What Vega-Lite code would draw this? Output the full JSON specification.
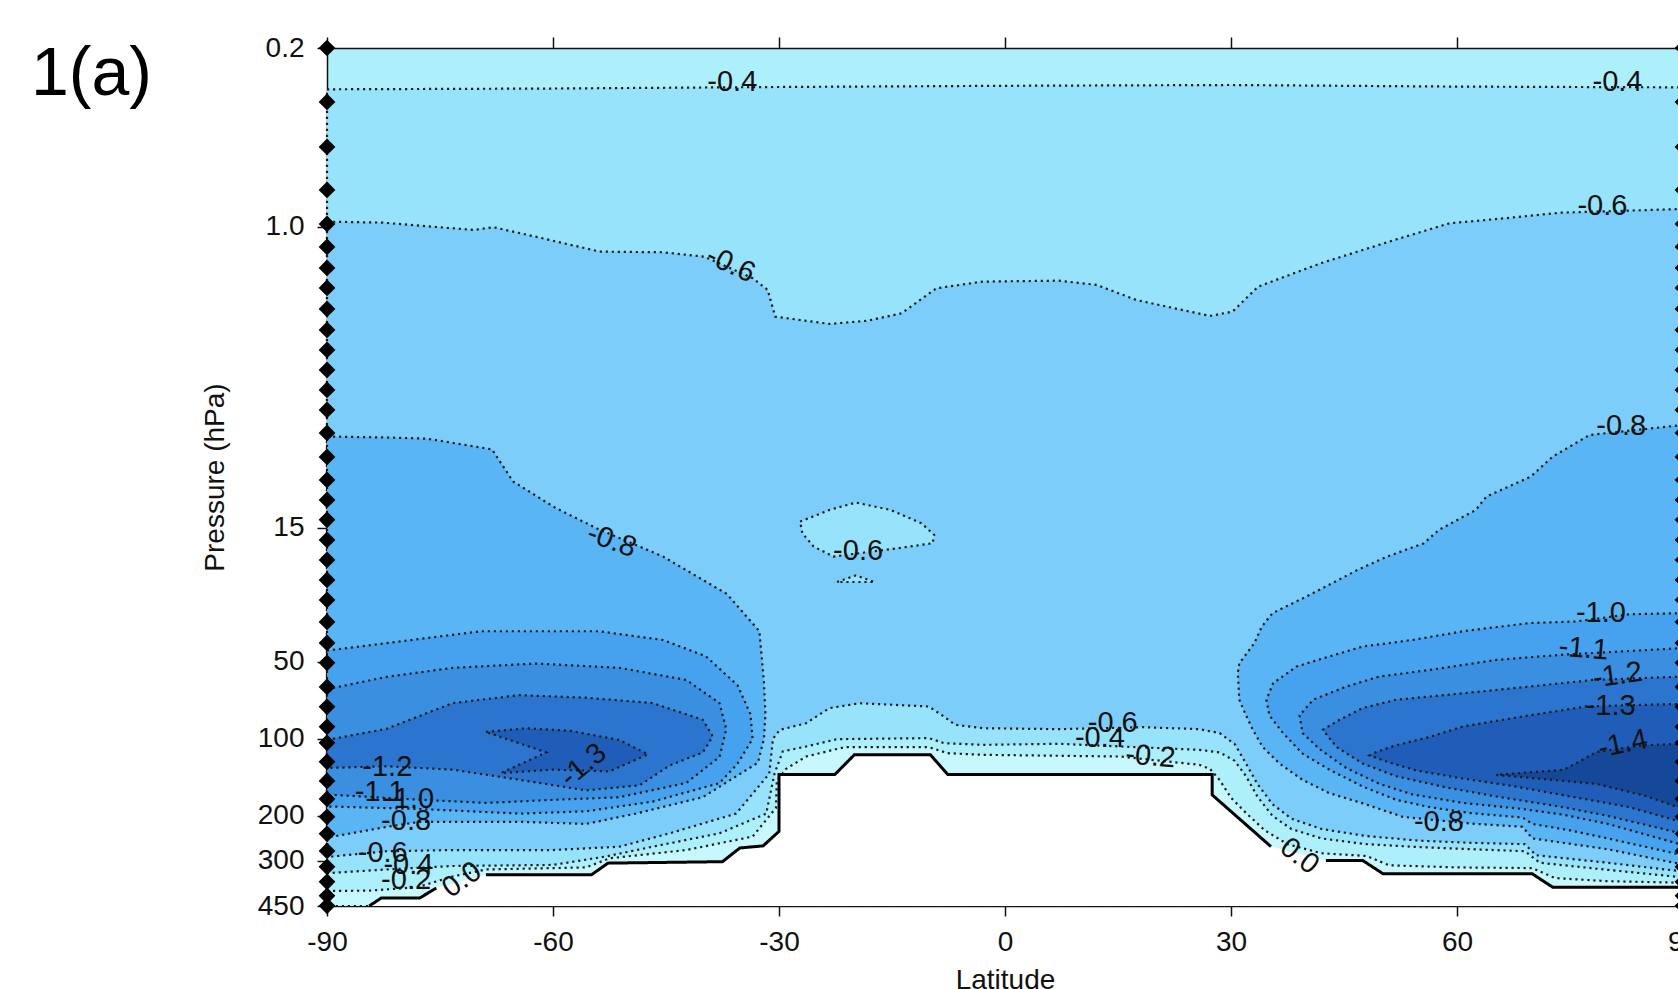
{
"$schema": "https://vega.github.io/schema/vega-lite/v6.json",
"width": 1351, "height": 858,
"autosize": {"type": "none"},
"padding": {"left": 327, "top": 48, "right": 0, "bottom": 83},
"background": "white",
"config": {"view": {"stroke": null, "fill": "#aeeffc"}, "font": "Liberation Sans", "axis": {"zindex": 1}, "line": {"stroke": "#1b1b1b", "strokeWidth": 2.2, "strokeDash": [2.2, 3.8]}},
"title": {"text": "1(a)", "anchor": "start", "frame": "group", "orient": "top", "fontSize": 68, "font": "Liberation Sans", "fontWeight": "normal", "color": "#000", "dx": -296, "dy": 129, "offset": 0, "baseline": "alphabetic"},
"resolve": {"axis": {"x": "independent"}},
"datasets": {
"poly": [
{"c":"m04","part":"a","i":0,"lat":-90,"p":0.29},{"c":"m04","part":"a","i":1,"lat":-60,"p":0.288},{"c":"m04","part":"a","i":2,"lat":-30,"p":0.284},{"c":"m04","part":"a","i":3,"lat":0,"p":0.281},{"c":"m04","part":"a","i":4,"lat":30,"p":0.279},{"c":"m04","part":"a","i":5,"lat":60,"p":0.283},{"c":"m04","part":"a","i":6,"lat":90,"p":0.285},{"c":"m04","part":"a","i":7,"lat":90,"p":348},{"c":"m04","part":"a","i":8,"lat":80,"p":325},{"c":"m04","part":"a","i":9,"lat":71,"p":305},{"c":"m04","part":"a","i":10,"lat":69,"p":275},{"c":"m04","part":"a","i":11,"lat":62,"p":270},{"c":"m04","part":"a","i":12,"lat":55,"p":265},{"c":"m04","part":"a","i":13,"lat":48,"p":258},{"c":"m04","part":"a","i":14,"lat":42,"p":245},{"c":"m04","part":"a","i":15,"lat":38,"p":225},{"c":"m04","part":"a","i":16,"lat":35.5,"p":200},{"c":"m04","part":"a","i":17,"lat":33.5,"p":168},{"c":"m04","part":"a","i":18,"lat":32,"p":140},{"c":"m04","part":"a","i":19,"lat":30.5,"p":122},{"c":"m04","part":"a","i":20,"lat":28.5,"p":113},{"c":"m04","part":"a","i":21,"lat":25.8,"p":110.4},{"c":"m04","part":"a","i":22,"lat":7.1,"p":104.6},{"c":"m04","part":"a","i":23,"lat":-3,"p":105.6},{"c":"m04","part":"a","i":24,"lat":-8.1,"p":104},{"c":"m04","part":"a","i":25,"lat":-10.1,"p":99.4},{"c":"m04","part":"a","i":26,"lat":-22.3,"p":100.3},{"c":"m04","part":"a","i":27,"lat":-26.4,"p":107.2},{"c":"m04","part":"a","i":28,"lat":-29.5,"p":112},{"c":"m04","part":"a","i":29,"lat":-30.6,"p":137},{"c":"m04","part":"a","i":30,"lat":-31.7,"p":196},{"c":"m04","part":"a","i":31,"lat":-37.9,"p":234},{"c":"m04","part":"a","i":32,"lat":-46.8,"p":264},{"c":"m04","part":"a","i":33,"lat":-52.9,"p":288},{"c":"m04","part":"a","i":34,"lat":-60,"p":311},{"c":"m04","part":"a","i":35,"lat":-73.3,"p":314},{"c":"m04","part":"a","i":36,"lat":-82.1,"p":324},{"c":"m04","part":"a","i":37,"lat":-90,"p":335},{"c":"m04","part":"a","i":38,"lat":-90,"p":0.29},

{"c":"m06","part":"a","i":0,"lat":-90,"p":0.954},{"c":"m06","part":"a","i":1,"lat":-82.7,"p":0.962},{"c":"m06","part":"a","i":2,"lat":-70.5,"p":1.028},{"c":"m06","part":"a","i":3,"lat":-67.9,"p":1.003},{"c":"m06","part":"a","i":4,"lat":-62.3,"p":1.092},{"c":"m06","part":"a","i":5,"lat":-53.8,"p":1.249},{"c":"m06","part":"a","i":6,"lat":-45.5,"p":1.256},{"c":"m06","part":"a","i":7,"lat":-39.9,"p":1.307},{"c":"m06","part":"a","i":8,"lat":-33.5,"p":1.587},{"c":"m06","part":"a","i":9,"lat":-31.5,"p":1.763},{"c":"m06","part":"a","i":10,"lat":-30.5,"p":2.242},{"c":"m06","part":"a","i":11,"lat":-23.3,"p":2.394},{"c":"m06","part":"a","i":12,"lat":-18.2,"p":2.324},{"c":"m06","part":"a","i":13,"lat":-13.7,"p":2.174},{"c":"m06","part":"a","i":14,"lat":-9.1,"p":1.737},{"c":"m06","part":"a","i":15,"lat":-3,"p":1.636},{"c":"m06","part":"a","i":16,"lat":7.1,"p":1.622},{"c":"m06","part":"a","i":17,"lat":12.2,"p":1.686},{"c":"m06","part":"a","i":18,"lat":17.4,"p":1.929},{"c":"m06","part":"a","i":19,"lat":27.2,"p":2.228},{"c":"m06","part":"a","i":20,"lat":30.2,"p":2.143},{"c":"m06","part":"a","i":21,"lat":33.6,"p":1.712},{"c":"m06","part":"a","i":22,"lat":41.9,"p":1.387},{"c":"m06","part":"a","i":23,"lat":51.7,"p":1.125},{"c":"m06","part":"a","i":24,"lat":59,"p":0.968},{"c":"m06","part":"a","i":25,"lat":66.4,"p":0.925},{"c":"m06","part":"a","i":26,"lat":73.7,"p":0.88},{"c":"m06","part":"a","i":27,"lat":90,"p":0.851},{"c":"m06","part":"a","i":28,"lat":90,"p":330},{"c":"m06","part":"a","i":29,"lat":80,"p":305},{"c":"m06","part":"a","i":30,"lat":70.5,"p":285},{"c":"m06","part":"a","i":31,"lat":69,"p":258},{"c":"m06","part":"a","i":32,"lat":62,"p":255},{"c":"m06","part":"a","i":33,"lat":55,"p":250},{"c":"m06","part":"a","i":34,"lat":48,"p":240},{"c":"m06","part":"a","i":35,"lat":42,"p":225},{"c":"m06","part":"a","i":36,"lat":38,"p":205},{"c":"m06","part":"a","i":37,"lat":35.5,"p":180},{"c":"m06","part":"a","i":38,"lat":33.5,"p":150},{"c":"m06","part":"a","i":39,"lat":32,"p":125},{"c":"m06","part":"a","i":40,"lat":30.5,"p":105},{"c":"m06","part":"a","i":41,"lat":28.5,"p":95},{"c":"m06","part":"a","i":42,"lat":25.8,"p":91.7},{"c":"m06","part":"a","i":43,"lat":18.3,"p":90.1},{"c":"m06","part":"a","i":44,"lat":7.1,"p":91.7},{"c":"m06","part":"a","i":45,"lat":-3,"p":90.9},{"c":"m06","part":"a","i":46,"lat":-6.6,"p":88.2},{"c":"m06","part":"a","i":47,"lat":-8.1,"p":81.9},{"c":"m06","part":"a","i":48,"lat":-10.1,"p":74.8},{"c":"m06","part":"a","i":49,"lat":-19.3,"p":72.6},{"c":"m06","part":"a","i":50,"lat":-23.3,"p":75.9},{"c":"m06","part":"a","i":51,"lat":-26.4,"p":86.9},{"c":"m06","part":"a","i":52,"lat":-29.9,"p":92.3},{"c":"m06","part":"a","i":53,"lat":-30.8,"p":100},{"c":"m06","part":"a","i":54,"lat":-31.3,"p":137},{"c":"m06","part":"a","i":55,"lat":-35.7,"p":196},{"c":"m06","part":"a","i":56,"lat":-44.5,"p":234},{"c":"m06","part":"a","i":57,"lat":-51.2,"p":264},{"c":"m06","part":"a","i":58,"lat":-60,"p":272},{"c":"m06","part":"a","i":59,"lat":-73.3,"p":272},{"c":"m06","part":"a","i":60,"lat":-82.1,"p":275},{"c":"m06","part":"a","i":61,"lat":-89.2,"p":288},{"c":"m06","part":"a","i":62,"lat":-90,"p":289},{"c":"m06","part":"a","i":63,"lat":-90,"p":0.954},

{"c":"isl","part":"a","i":0,"lat":-27.2,"p":14.17},{"c":"isl","part":"a","i":1,"lat":-23.3,"p":12.76},{"c":"isl","part":"a","i":2,"lat":-19.8,"p":11.94},{"c":"isl","part":"a","i":3,"lat":-15.2,"p":12.76},{"c":"isl","part":"a","i":4,"lat":-11.1,"p":14.38},{"c":"isl","part":"a","i":5,"lat":-9.4,"p":15.97},{"c":"isl","part":"a","i":6,"lat":-9.6,"p":17.21},{"c":"isl","part":"a","i":7,"lat":-14.2,"p":18},{"c":"isl","part":"a","i":8,"lat":-22.8,"p":19.41},{"c":"isl","part":"a","i":9,"lat":-25.4,"p":17.74},{"c":"isl","part":"a","i":10,"lat":-26.9,"p":15.73},{"c":"isl","part":"a","i":11,"lat":-27.2,"p":14.17},
{"c":"isl","part":"b","i":0,"lat":-22.3,"p":24.4},{"c":"isl","part":"b","i":1,"lat":-19.8,"p":23.0},{"c":"isl","part":"b","i":2,"lat":-17.3,"p":24.4},{"c":"isl","part":"b","i":3,"lat":-22.3,"p":24.4},

{"c":"m08","part":"s","i":0,"lat":-90,"p":6.59},{"c":"m08","part":"s","i":1,"lat":-82,"p":6.65},{"c":"m08","part":"s","i":2,"lat":-76.7,"p":6.72},{"c":"m08","part":"s","i":3,"lat":-68.1,"p":7.4},{"c":"m08","part":"s","i":4,"lat":-65.3,"p":9.88},{"c":"m08","part":"s","i":5,"lat":-59.6,"p":12.56},{"c":"m08","part":"s","i":6,"lat":-53.9,"p":15.2},{"c":"m08","part":"s","i":7,"lat":-45.4,"p":19.4},{"c":"m08","part":"s","i":8,"lat":-36.9,"p":27.2},{"c":"m08","part":"s","i":9,"lat":-32.6,"p":38},{"c":"m08","part":"s","i":10,"lat":-32,"p":60},{"c":"m08","part":"s","i":11,"lat":-31.8,"p":80},{"c":"m08","part":"s","i":12,"lat":-32,"p":100},{"c":"m08","part":"s","i":13,"lat":-32.8,"p":124},{"c":"m08","part":"s","i":14,"lat":-40.1,"p":169},{"c":"m08","part":"s","i":15,"lat":-49,"p":196},{"c":"m08","part":"s","i":16,"lat":-55.6,"p":215},{"c":"m08","part":"s","i":17,"lat":-64.4,"p":211},{"c":"m08","part":"s","i":18,"lat":-77.7,"p":211},{"c":"m08","part":"s","i":19,"lat":-82.1,"p":221},{"c":"m08","part":"s","i":20,"lat":-89.2,"p":241},{"c":"m08","part":"s","i":21,"lat":-90,"p":243},{"c":"m08","part":"s","i":22,"lat":-90,"p":6.59},
{"c":"m08","part":"n","i":0,"lat":90,"p":5.94},{"c":"m08","part":"n","i":1,"lat":77.6,"p":6.5},{"c":"m08","part":"n","i":2,"lat":72.7,"p":7.9},{"c":"m08","part":"n","i":3,"lat":69.8,"p":9.45},{"c":"m08","part":"n","i":4,"lat":63.9,"p":11.32},{"c":"m08","part":"n","i":5,"lat":62.5,"p":12.76},{"c":"m08","part":"n","i":6,"lat":57.6,"p":15.27},{"c":"m08","part":"n","i":7,"lat":55.6,"p":17.22},{"c":"m08","part":"n","i":8,"lat":50.7,"p":19.42},{"c":"m08","part":"n","i":9,"lat":46.8,"p":21.89},{"c":"m08","part":"n","i":10,"lat":40,"p":27.82},{"c":"m08","part":"n","i":11,"lat":35.5,"p":32.3},{"c":"m08","part":"n","i":12,"lat":34.1,"p":36.4},{"c":"m08","part":"n","i":13,"lat":33.1,"p":42.3},{"c":"m08","part":"n","i":14,"lat":31.1,"p":50.7},{"c":"m08","part":"n","i":15,"lat":30.9,"p":55.4},{"c":"m08","part":"n","i":16,"lat":31.1,"p":70.4},{"c":"m08","part":"n","i":17,"lat":32,"p":81},{"c":"m08","part":"n","i":18,"lat":32.9,"p":92.2},{"c":"m08","part":"n","i":19,"lat":34.2,"p":107.6},{"c":"m08","part":"n","i":20,"lat":36.4,"p":124.6},{"c":"m08","part":"n","i":21,"lat":39.5,"p":144.7},{"c":"m08","part":"n","i":22,"lat":43.1,"p":163.3},{"c":"m08","part":"n","i":23,"lat":47.5,"p":178.7},{"c":"m08","part":"n","i":24,"lat":52.8,"p":201.8},{"c":"m08","part":"n","i":25,"lat":61.7,"p":214.2},{"c":"m08","part":"n","i":26,"lat":68.7,"p":220.7},{"c":"m08","part":"n","i":27,"lat":70,"p":245},{"c":"m08","part":"n","i":28,"lat":80,"p":270},{"c":"m08","part":"n","i":29,"lat":90,"p":310},{"c":"m08","part":"n","i":30,"lat":90,"p":5.94},

{"c":"m10","part":"s","i":0,"lat":-90,"p":45.2},{"c":"m10","part":"s","i":1,"lat":-69.5,"p":38},{"c":"m10","part":"s","i":2,"lat":-53.9,"p":38},{"c":"m10","part":"s","i":3,"lat":-45.4,"p":41.1},{"c":"m10","part":"s","i":4,"lat":-39.7,"p":47.6},{"c":"m10","part":"s","i":5,"lat":-35.5,"p":61.8},{"c":"m10","part":"s","i":6,"lat":-33.8,"p":80},{"c":"m10","part":"s","i":7,"lat":-33.5,"p":100},{"c":"m10","part":"s","i":8,"lat":-35.5,"p":125},{"c":"m10","part":"s","i":9,"lat":-37.9,"p":149},{"c":"m10","part":"s","i":10,"lat":-46.8,"p":176},{"c":"m10","part":"s","i":11,"lat":-55.6,"p":192},{"c":"m10","part":"s","i":12,"lat":-64.4,"p":196},{"c":"m10","part":"s","i":13,"lat":-77.7,"p":188},{"c":"m10","part":"s","i":14,"lat":-89.2,"p":184},{"c":"m10","part":"s","i":15,"lat":-90,"p":184},{"c":"m10","part":"s","i":16,"lat":-90,"p":45.2},
{"c":"m10","part":"n","i":0,"lat":90,"p":32.3},{"c":"m10","part":"n","i":1,"lat":82.9,"p":32.6},{"c":"m10","part":"n","i":2,"lat":75.8,"p":34.8},{"c":"m10","part":"n","i":3,"lat":69.6,"p":35.3},{"c":"m10","part":"n","i":4,"lat":60.8,"p":38},{"c":"m10","part":"n","i":5,"lat":54.1,"p":41.1},{"c":"m10","part":"n","i":6,"lat":47.5,"p":43.6},{"c":"m10","part":"n","i":7,"lat":43.1,"p":47.6},{"c":"m10","part":"n","i":8,"lat":38.7,"p":52.2},{"c":"m10","part":"n","i":9,"lat":35.6,"p":60.6},{"c":"m10","part":"n","i":10,"lat":34.7,"p":70.4},{"c":"m10","part":"n","i":11,"lat":35.1,"p":81},{"c":"m10","part":"n","i":12,"lat":36.9,"p":95},{"c":"m10","part":"n","i":13,"lat":39.5,"p":114.3},{"c":"m10","part":"n","i":14,"lat":43.1,"p":132.2},{"c":"m10","part":"n","i":15,"lat":47.5,"p":153.7},{"c":"m10","part":"n","i":16,"lat":51.9,"p":173},{"c":"m10","part":"n","i":17,"lat":56.4,"p":185},{"c":"m10","part":"n","i":18,"lat":61.7,"p":195},{"c":"m10","part":"n","i":19,"lat":68.7,"p":203},{"c":"m10","part":"n","i":20,"lat":70,"p":215},{"c":"m10","part":"n","i":21,"lat":75,"p":228},{"c":"m10","part":"n","i":22,"lat":80,"p":245},{"c":"m10","part":"n","i":23,"lat":90,"p":285},{"c":"m10","part":"n","i":24,"lat":90,"p":32.3},

{"c":"m11","part":"s","i":0,"lat":-90,"p":64},{"c":"m11","part":"s","i":1,"lat":-82.1,"p":57.3},{"c":"m11","part":"s","i":2,"lat":-73.3,"p":52.8},{"c":"m11","part":"s","i":3,"lat":-62.2,"p":50.8},{"c":"m11","part":"s","i":4,"lat":-51.2,"p":52.8},{"c":"m11","part":"s","i":5,"lat":-42.3,"p":58.9},{"c":"m11","part":"s","i":6,"lat":-37.9,"p":72.5},{"c":"m11","part":"s","i":7,"lat":-37,"p":91.7},{"c":"m11","part":"s","i":8,"lat":-37.9,"p":117.7},{"c":"m11","part":"s","i":9,"lat":-42.3,"p":148.7},{"c":"m11","part":"s","i":10,"lat":-51.2,"p":169.2},{"c":"m11","part":"s","i":11,"lat":-60,"p":173.2},{"c":"m11","part":"s","i":12,"lat":-68.9,"p":178},{"c":"m11","part":"s","i":13,"lat":-77.7,"p":173},{"c":"m11","part":"s","i":14,"lat":-89.2,"p":165.6},{"c":"m11","part":"s","i":15,"lat":-90,"p":165.6},{"c":"m11","part":"s","i":16,"lat":-90,"p":64},
{"c":"m11","part":"n","i":0,"lat":90,"p":44.2},{"c":"m11","part":"n","i":1,"lat":74.1,"p":46.9},{"c":"m11","part":"n","i":2,"lat":65.2,"p":49.2},{"c":"m11","part":"n","i":3,"lat":56.4,"p":53.8},{"c":"m11","part":"n","i":4,"lat":49.7,"p":57.1},{"c":"m11","part":"n","i":5,"lat":45.3,"p":62.5},{"c":"m11","part":"n","i":6,"lat":40.9,"p":70.4},{"c":"m11","part":"n","i":7,"lat":39.1,"p":81},{"c":"m11","part":"n","i":8,"lat":39.5,"p":95},{"c":"m11","part":"n","i":9,"lat":41.8,"p":110},{"c":"m11","part":"n","i":10,"lat":45.3,"p":130},{"c":"m11","part":"n","i":11,"lat":49.7,"p":150},{"c":"m11","part":"n","i":12,"lat":54.1,"p":165},{"c":"m11","part":"n","i":13,"lat":60.8,"p":178},{"c":"m11","part":"n","i":14,"lat":68.7,"p":188},{"c":"m11","part":"n","i":15,"lat":74.1,"p":198},{"c":"m11","part":"n","i":16,"lat":80,"p":215},{"c":"m11","part":"n","i":17,"lat":90,"p":260},{"c":"m11","part":"n","i":18,"lat":90,"p":44.2},

{"c":"m12","part":"s","i":0,"lat":-90,"p":101},{"c":"m12","part":"s","i":1,"lat":-82.1,"p":91.4},{"c":"m12","part":"s","i":2,"lat":-73.3,"p":72.5},{"c":"m12","part":"s","i":3,"lat":-64.4,"p":67.5},{"c":"m12","part":"s","i":4,"lat":-55.6,"p":69.1},{"c":"m12","part":"s","i":5,"lat":-46.8,"p":72.5},{"c":"m12","part":"s","i":6,"lat":-40.1,"p":84.3},{"c":"m12","part":"s","i":7,"lat":-38.8,"p":97.8},{"c":"m12","part":"s","i":8,"lat":-40.1,"p":113},{"c":"m12","part":"s","i":9,"lat":-44.5,"p":127},{"c":"m12","part":"s","i":10,"lat":-48.5,"p":152},{"c":"m12","part":"s","i":11,"lat":-55.6,"p":159},{"c":"m12","part":"s","i":12,"lat":-64.4,"p":144.7},{"c":"m12","part":"s","i":13,"lat":-73.3,"p":132},{"c":"m12","part":"s","i":14,"lat":-82.1,"p":128},{"c":"m12","part":"s","i":15,"lat":-90,"p":130},{"c":"m12","part":"s","i":16,"lat":-90,"p":101},
{"c":"m12","part":"n","i":0,"lat":90,"p":57.1},{"c":"m12","part":"n","i":1,"lat":78,"p":58.9},{"c":"m12","part":"n","i":2,"lat":69.6,"p":62.5},{"c":"m12","part":"n","i":3,"lat":60.8,"p":66.4},{"c":"m12","part":"n","i":4,"lat":51.9,"p":70.4},{"c":"m12","part":"n","i":5,"lat":47.5,"p":75.8},{"c":"m12","part":"n","i":6,"lat":44.4,"p":84.3},{"c":"m12","part":"n","i":7,"lat":42.2,"p":92.2},{"c":"m12","part":"n","i":8,"lat":44,"p":107.6},{"c":"m12","part":"n","i":9,"lat":47.5,"p":125},{"c":"m12","part":"n","i":10,"lat":51.9,"p":140},{"c":"m12","part":"n","i":11,"lat":58.6,"p":155},{"c":"m12","part":"n","i":12,"lat":65.2,"p":168},{"c":"m12","part":"n","i":13,"lat":74.1,"p":185},{"c":"m12","part":"n","i":14,"lat":80,"p":200},{"c":"m12","part":"n","i":15,"lat":90,"p":235},{"c":"m12","part":"n","i":16,"lat":90,"p":57.1},

{"c":"m13","part":"s","i":0,"lat":-68.9,"p":94},{"c":"m13","part":"s","i":1,"lat":-63.6,"p":91},{"c":"m13","part":"s","i":2,"lat":-57.8,"p":93},{"c":"m13","part":"s","i":3,"lat":-51.2,"p":101},{"c":"m13","part":"s","i":4,"lat":-47.4,"p":115},{"c":"m13","part":"s","i":5,"lat":-52.5,"p":134},{"c":"m13","part":"s","i":6,"lat":-60,"p":132},{"c":"m13","part":"s","i":7,"lat":-66.9,"p":136},{"c":"m13","part":"s","i":8,"lat":-60.9,"p":113},{"c":"m13","part":"s","i":9,"lat":-68.9,"p":94},
{"c":"m13","part":"n","i":0,"lat":90,"p":73},{"c":"m13","part":"n","i":1,"lat":77.2,"p":74.7},{"c":"m13","part":"n","i":2,"lat":69.6,"p":81},{"c":"m13","part":"n","i":3,"lat":60.8,"p":89.5},{"c":"m13","part":"n","i":4,"lat":56.4,"p":98.3},{"c":"m13","part":"n","i":5,"lat":51.9,"p":106},{"c":"m13","part":"n","i":6,"lat":49.3,"p":112.6},{"c":"m13","part":"n","i":7,"lat":48.4,"p":116.1},{"c":"m13","part":"n","i":8,"lat":51.1,"p":124},{"c":"m13","part":"n","i":9,"lat":54.6,"p":133},{"c":"m13","part":"n","i":10,"lat":60.8,"p":143},{"c":"m13","part":"n","i":11,"lat":67.4,"p":153},{"c":"m13","part":"n","i":12,"lat":74.1,"p":166},{"c":"m13","part":"n","i":13,"lat":82.9,"p":185},{"c":"m13","part":"n","i":14,"lat":90,"p":212},{"c":"m13","part":"n","i":15,"lat":90,"p":73},

{"c":"m14","part":"n","i":0,"lat":90,"p":104.5},{"c":"m14","part":"n","i":1,"lat":84.7,"p":106},{"c":"m14","part":"n","i":2,"lat":78.5,"p":112.6},{"c":"m14","part":"n","i":3,"lat":75.8,"p":124.6},{"c":"m14","part":"n","i":4,"lat":74.1,"p":132.2},{"c":"m14","part":"n","i":5,"lat":65.2,"p":138.3},{"c":"m14","part":"n","i":6,"lat":69.6,"p":142},{"c":"m14","part":"n","i":7,"lat":78.5,"p":150},{"c":"m14","part":"n","i":8,"lat":85,"p":167},{"c":"m14","part":"n","i":9,"lat":90,"p":188},{"c":"m14","part":"n","i":10,"lat":90,"p":104.5},

{"c":"b02","part":"a","i":0,"lat":-90,"p":393},{"c":"b02","part":"a","i":1,"lat":-84.4,"p":392},{"c":"b02","part":"a","i":2,"lat":-78,"p":380},{"c":"b02","part":"a","i":3,"lat":-73.3,"p":345},{"c":"b02","part":"a","i":4,"lat":-68.9,"p":324},{"c":"b02","part":"a","i":5,"lat":-60,"p":320},{"c":"b02","part":"a","i":6,"lat":-55.6,"p":318},{"c":"b02","part":"a","i":7,"lat":-52.5,"p":293},{"c":"b02","part":"a","i":8,"lat":-42.3,"p":272},{"c":"b02","part":"a","i":9,"lat":-33.5,"p":241},{"c":"b02","part":"a","i":10,"lat":-30.4,"p":186},{"c":"b02","part":"a","i":11,"lat":-30.3,"p":146},{"c":"b02","part":"a","i":12,"lat":-29.05,"p":131},{"c":"b02","part":"a","i":13,"lat":-26.4,"p":117.3},{"c":"b02","part":"a","i":14,"lat":-21.3,"p":107.8},{"c":"b02","part":"a","i":15,"lat":-10.1,"p":107.8},{"c":"b02","part":"a","i":16,"lat":-7.6,"p":113.8},{"c":"b02","part":"a","i":17,"lat":-3,"p":115.5},{"c":"b02","part":"a","i":18,"lat":15.3,"p":117.3},{"c":"b02","part":"a","i":19,"lat":25.8,"p":126.4},{"c":"b02","part":"a","i":20,"lat":27.2,"p":131},{"c":"b02","part":"a","i":21,"lat":28.5,"p":145},{"c":"b02","part":"a","i":22,"lat":30,"p":170},{"c":"b02","part":"a","i":23,"lat":32,"p":195},{"c":"b02","part":"a","i":24,"lat":34.5,"p":228},{"c":"b02","part":"a","i":25,"lat":37.5,"p":258},{"c":"b02","part":"a","i":26,"lat":42,"p":280},{"c":"b02","part":"a","i":27,"lat":48,"p":287},{"c":"b02","part":"a","i":28,"lat":51,"p":312},{"c":"b02","part":"a","i":29,"lat":60,"p":318},{"c":"b02","part":"a","i":30,"lat":70,"p":320},{"c":"b02","part":"a","i":31,"lat":73,"p":350},{"c":"b02","part":"a","i":32,"lat":80,"p":360},{"c":"b02","part":"a","i":33,"lat":90,"p":365},{"c":"b02","part":"a","i":34,"lat":90,"p":450},{"c":"b02","part":"a","i":35,"lat":-90,"p":450},{"c":"b02","part":"a","i":36,"lat":-90,"p":393},

{"c":"wht","part":"a","i":0,"lat":-84.4,"p":450},{"c":"wht","part":"a","i":1,"lat":-82.8,"p":419},{"c":"wht","part":"a","i":2,"lat":-77.7,"p":419},{"c":"wht","part":"a","i":3,"lat":-75.5,"p":383},{"c":"wht","part":"a","i":4,"lat":-68.9,"p":340},{"c":"wht","part":"a","i":5,"lat":-54.9,"p":340},{"c":"wht","part":"a","i":6,"lat":-52.7,"p":306},{"c":"wht","part":"a","i":7,"lat":-37.5,"p":302},{"c":"wht","part":"a","i":8,"lat":-35.2,"p":267},{"c":"wht","part":"a","i":9,"lat":-32.1,"p":262},{"c":"wht","part":"a","i":10,"lat":-30,"p":230},{"c":"wht","part":"a","i":11,"lat":-30,"p":138},{"c":"wht","part":"a","i":12,"lat":-22.6,"p":138},{"c":"wht","part":"a","i":13,"lat":-20,"p":115.5},{"c":"wht","part":"a","i":14,"lat":-9.9,"p":115.5},{"c":"wht","part":"a","i":15,"lat":-7.6,"p":138},{"c":"wht","part":"a","i":16,"lat":27.5,"p":138},{"c":"wht","part":"a","i":17,"lat":27.5,"p":165.6},{"c":"wht","part":"a","i":18,"lat":35.3,"p":263.6},{"c":"wht","part":"a","i":19,"lat":42.6,"p":299},{"c":"wht","part":"a","i":20,"lat":47.5,"p":299},{"c":"wht","part":"a","i":21,"lat":50.2,"p":337},{"c":"wht","part":"a","i":22,"lat":70,"p":337},{"c":"wht","part":"a","i":23,"lat":72.7,"p":380},{"c":"wht","part":"a","i":24,"lat":90,"p":380},{"c":"wht","part":"a","i":25,"lat":90,"p":450},{"c":"wht","part":"a","i":26,"lat":-84.4,"p":450}
],
"edge": [
{"seg":"s1","i":0,"lat":-84.4,"p":450},{"seg":"s1","i":1,"lat":-82.8,"p":419},{"seg":"s1","i":2,"lat":-77.7,"p":419},{"seg":"s1","i":3,"lat":-75.5,"p":383},
{"seg":"s2","i":0,"lat":-68.9,"p":340},{"seg":"s2","i":1,"lat":-54.9,"p":340},{"seg":"s2","i":2,"lat":-52.7,"p":306},{"seg":"s2","i":3,"lat":-37.5,"p":302},{"seg":"s2","i":4,"lat":-35.2,"p":267},{"seg":"s2","i":5,"lat":-32.1,"p":262},{"seg":"s2","i":6,"lat":-30,"p":230},{"seg":"s2","i":7,"lat":-30,"p":138},{"seg":"s2","i":8,"lat":-22.6,"p":138},{"seg":"s2","i":9,"lat":-20,"p":115.5},{"seg":"s2","i":10,"lat":-9.9,"p":115.5},{"seg":"s2","i":11,"lat":-7.6,"p":138},{"seg":"s2","i":12,"lat":27.5,"p":138},{"seg":"s2","i":13,"lat":27.5,"p":165.6},{"seg":"s2","i":14,"lat":35.3,"p":263.6},
{"seg":"s3","i":0,"lat":42.6,"p":299},{"seg":"s3","i":1,"lat":47.5,"p":299},{"seg":"s3","i":2,"lat":50.2,"p":337},{"seg":"s3","i":3,"lat":70,"p":337},{"seg":"s3","i":4,"lat":72.7,"p":380},{"seg":"s3","i":5,"lat":90,"p":380}
],
"labels": [
{"id":"L1","t":"-0.4","lat":-36.2,"p":0.2725},{"id":"L2","t":"-0.4","lat":81.3,"p":0.2725},{"id":"L3","t":"-0.6","lat":-36.4,"p":1.4},{"id":"L4","t":"-0.6","lat":79.3,"p":0.832},{"id":"L5","t":"-0.8","lat":81.8,"p":5.99},{"id":"L6","t":"-0.8","lat":-52.2,"p":16.8},{"id":"L7","t":"-0.6","lat":-19.5,"p":18.5},{"id":"L8","t":"-1.0","lat":79.1,"p":32.3},{"id":"L9","t":"-1.1","lat":76.8,"p":44.4},{"id":"L10","t":"-1.2","lat":81.3,"p":56.4},{"id":"L11","t":"-1.3","lat":80.4,"p":74.6},{"id":"L12","t":"-1.4","lat":82,"p":104.5},{"id":"L13","t":"-0.8","lat":57.6,"p":211},{"id":"L14","t":"-1.2","lat":-82,"p":129},{"id":"L15","t":"-1.1","lat":-83,"p":161},{"id":"L16","t":"-1.0","lat":-79.1,"p":172},{"id":"L17","t":"-0.8","lat":-79.5,"p":209},{"id":"L18","t":"-0.6","lat":-82.6,"p":279},{"id":"L19","t":"-0.4","lat":-79.2,"p":310},{"id":"L20","t":"-0.2","lat":-79.5,"p":355},{"id":"L21","t":"0.0","lat":-72.1,"p":355},{"id":"L22","t":"-1.3","lat":-56,"p":126.6},{"id":"L23","t":"-0.6","lat":14.3,"p":87},{"id":"L24","t":"-0.4","lat":12.6,"p":99.5},{"id":"L25","t":"-0.2","lat":19.3,"p":117},{"id":"L26","t":"0.0","lat":39.1,"p":287}
],
"levels": [
{"lat":-90,"p":0.2},{"lat":-90,"p":0.325},{"lat":-90,"p":0.487},{"lat":-90,"p":0.717},{"lat":-90,"p":0.974},{"lat":-90,"p":1.198},{"lat":-90,"p":1.447},{"lat":-90,"p":1.732},{"lat":-90,"p":2.092},{"lat":-90,"p":2.527},{"lat":-90,"p":3.025},{"lat":-90,"p":3.622},{"lat":-90,"p":4.335},{"lat":-90,"p":5.188},{"lat":-90,"p":6.38},{"lat":-90,"p":7.917},{"lat":-90,"p":9.739},{"lat":-90,"p":11.66},{"lat":-90,"p":13.95},{"lat":-90,"p":16.71},{"lat":-90,"p":20.0},{"lat":-90,"p":23.94},{"lat":-90,"p":28.66},{"lat":-90,"p":34.93},{"lat":-90,"p":42.19},{"lat":-90,"p":50.5},{"lat":-90,"p":62.68},{"lat":-90,"p":75.03},{"lat":-90,"p":89.82},{"lat":-90,"p":103.7},{"lat":-90,"p":123.0},{"lat":-90,"p":146.0},{"lat":-90,"p":171.7},{"lat":-90,"p":201.8},{"lat":-90,"p":235.1},{"lat":-90,"p":274.1},{"lat":-90,"p":316.4},{"lat":-90,"p":362.2},{"lat":-90,"p":410.7},{"lat":-90,"p":449.2},
{"lat":90,"p":0.2},{"lat":90,"p":0.325},{"lat":90,"p":0.487},{"lat":90,"p":0.717},{"lat":90,"p":0.974},{"lat":90,"p":1.198},{"lat":90,"p":1.447},{"lat":90,"p":1.732},{"lat":90,"p":2.092},{"lat":90,"p":2.527},{"lat":90,"p":3.025},{"lat":90,"p":3.622},{"lat":90,"p":4.335},{"lat":90,"p":5.188},{"lat":90,"p":6.38},{"lat":90,"p":7.917},{"lat":90,"p":9.739},{"lat":90,"p":11.66},{"lat":90,"p":13.95},{"lat":90,"p":16.71},{"lat":90,"p":20.0},{"lat":90,"p":23.94},{"lat":90,"p":28.66},{"lat":90,"p":34.93},{"lat":90,"p":42.19},{"lat":90,"p":50.5},{"lat":90,"p":62.68},{"lat":90,"p":75.03},{"lat":90,"p":89.82},{"lat":90,"p":103.7},{"lat":90,"p":123.0},{"lat":90,"p":146.0},{"lat":90,"p":171.7},{"lat":90,"p":201.8},{"lat":90,"p":235.1},{"lat":90,"p":274.1},{"lat":90,"p":316.4},{"lat":90,"p":362.2},{"lat":90,"p":410.7},{"lat":90,"p":449.2}
]
},
"layer": [
{"data":{"name":"poly"},"transform":[{"filter":"datum.c==='m04'"}],
 "mark":{"type":"line","fill":"#97e3fb"},
 "encoding":{
  "x":{"field":"lat","type":"quantitative","scale":{"domain":[-90,90],"range":[0,1356],"nice":false,"zero":false},
   "axis":{"orient":"bottom","title":"Latitude","values":[-90,-60,-30,0,30,60,90],"labelExpr":"toString(datum.value)","tickSize":10,"labelPadding":12,"labelFontSize":28,"labelFont":"Liberation Sans","titleFont":"Liberation Sans","titleFontSize":28,"titleFontWeight":"normal","titlePadding":10,"domainColor":"#111","tickColor":"#111","labelColor":"#111","titleColor":"#111","domainWidth":1.5,"tickWidth":1.5,"grid":false,"labelFlush":false,"labelOverlap":false}},
  "y":{"field":"p","type":"quantitative","scale":{"type":"log","domain":[0.2,450],"range":[0,858],"nice":false},
   "axis":{"title":"Pressure (hPa)","values":[0.2,1,15,50,100,200,300,450],"labelExpr":"datum.value < 0.5 ? '0.2' : datum.value < 2 ? '1.0' : toString(datum.value)","tickSize":10,"labelPadding":13,"labelFontSize":28,"labelFont":"Liberation Sans","titleFont":"Liberation Sans","titleFontSize":28,"titleFontWeight":"normal","titlePadding":28,"domainColor":"#111","tickColor":"#111","labelColor":"#111","titleColor":"#111","domainWidth":1.5,"tickWidth":1.5,"grid":false,"labelOverlap":false}},
  "order":{"field":"i","type":"quantitative"},"detail":{"field":"part"}}},
{"data":{"name":"poly"},"transform":[{"filter":"datum.c==='m06'"}],
 "mark":{"type":"line","fill":"#7dcdfa"},
 "encoding":{"x":{"field":"lat","type":"quantitative","scale":{"domain":[-90,90],"range":[0,1356],"nice":false,"zero":false},"axis":null},"y":{"field":"p","type":"quantitative","scale":{"type":"log","domain":[0.2,450],"range":[0,858],"nice":false}},"order":{"field":"i","type":"quantitative"},"detail":{"field":"part"}}},
{"data":{"name":"poly"},"transform":[{"filter":"datum.c==='isl'"}],
 "mark":{"type":"line","fill":"#97e3fb"},
 "encoding":{"x":{"field":"lat","type":"quantitative","scale":{"domain":[-90,90],"range":[0,1356],"nice":false,"zero":false},"axis":null},"y":{"field":"p","type":"quantitative","scale":{"type":"log","domain":[0.2,450],"range":[0,858],"nice":false}},"order":{"field":"i","type":"quantitative"},"detail":{"field":"part"}}},
{"data":{"name":"poly"},"transform":[{"filter":"datum.c==='m08'"}],
 "mark":{"type":"line","fill":"#5ab5f5"},
 "encoding":{"x":{"field":"lat","type":"quantitative","scale":{"domain":[-90,90],"range":[0,1356],"nice":false,"zero":false},"axis":null},"y":{"field":"p","type":"quantitative","scale":{"type":"log","domain":[0.2,450],"range":[0,858],"nice":false}},"order":{"field":"i","type":"quantitative"},"detail":{"field":"part"}}},
{"data":{"name":"poly"},"transform":[{"filter":"datum.c==='m10'"}],
 "mark":{"type":"line","fill":"#46a2ee"},
 "encoding":{"x":{"field":"lat","type":"quantitative","scale":{"domain":[-90,90],"range":[0,1356],"nice":false,"zero":false},"axis":null},"y":{"field":"p","type":"quantitative","scale":{"type":"log","domain":[0.2,450],"range":[0,858],"nice":false}},"order":{"field":"i","type":"quantitative"},"detail":{"field":"part"}}},
{"data":{"name":"poly"},"transform":[{"filter":"datum.c==='m11'"}],
 "mark":{"type":"line","fill":"#3a8fe0"},
 "encoding":{"x":{"field":"lat","type":"quantitative","scale":{"domain":[-90,90],"range":[0,1356],"nice":false,"zero":false},"axis":null},"y":{"field":"p","type":"quantitative","scale":{"type":"log","domain":[0.2,450],"range":[0,858],"nice":false}},"order":{"field":"i","type":"quantitative"},"detail":{"field":"part"}}},
{"data":{"name":"poly"},"transform":[{"filter":"datum.c==='m12'"}],
 "mark":{"type":"line","fill":"#2b75ce"},
 "encoding":{"x":{"field":"lat","type":"quantitative","scale":{"domain":[-90,90],"range":[0,1356],"nice":false,"zero":false},"axis":null},"y":{"field":"p","type":"quantitative","scale":{"type":"log","domain":[0.2,450],"range":[0,858],"nice":false}},"order":{"field":"i","type":"quantitative"},"detail":{"field":"part"}}},
{"data":{"name":"poly"},"transform":[{"filter":"datum.c==='m13'"}],
 "mark":{"type":"line","fill":"#1f5db8"},
 "encoding":{"x":{"field":"lat","type":"quantitative","scale":{"domain":[-90,90],"range":[0,1356],"nice":false,"zero":false},"axis":null},"y":{"field":"p","type":"quantitative","scale":{"type":"log","domain":[0.2,450],"range":[0,858],"nice":false}},"order":{"field":"i","type":"quantitative"},"detail":{"field":"part"}}},
{"data":{"name":"poly"},"transform":[{"filter":"datum.c==='m14'"}],
 "mark":{"type":"line","fill":"#154899"},
 "encoding":{"x":{"field":"lat","type":"quantitative","scale":{"domain":[-90,90],"range":[0,1356],"nice":false,"zero":false},"axis":null},"y":{"field":"p","type":"quantitative","scale":{"type":"log","domain":[0.2,450],"range":[0,858],"nice":false}},"order":{"field":"i","type":"quantitative"},"detail":{"field":"part"}}},
{"data":{"name":"poly"},"transform":[{"filter":"datum.c==='b02'"}],
 "mark":{"type":"line","fill":"#c8f7fd"},
 "encoding":{"x":{"field":"lat","type":"quantitative","scale":{"domain":[-90,90],"range":[0,1356],"nice":false,"zero":false},"axis":null},"y":{"field":"p","type":"quantitative","scale":{"type":"log","domain":[0.2,450],"range":[0,858],"nice":false}},"order":{"field":"i","type":"quantitative"},"detail":{"field":"part"}}},
{"data":{"name":"poly"},"transform":[{"filter":"datum.c==='wht'"}],
 "mark":{"type":"line","fill":"#ffffff","stroke":null,"strokeWidth":0,"strokeDash":[1,0]},
 "encoding":{"x":{"field":"lat","type":"quantitative","scale":{"domain":[-90,90],"range":[0,1356],"nice":false,"zero":false},"axis":null},"y":{"field":"p","type":"quantitative","scale":{"type":"log","domain":[0.2,450],"range":[0,858],"nice":false}},"order":{"field":"i","type":"quantitative"},"detail":{"field":"part"}}},
{"data":{"name":"edge"},
 "mark":{"type":"line","stroke":"#000","strokeWidth":3,"strokeDash":[1,0],"strokeJoin":"miter"},
 "encoding":{"x":{"field":"lat","type":"quantitative","scale":{"domain":[-90,90],"range":[0,1356],"nice":false,"zero":false},
   "axis":{"orient":"top","labels":false,"title":null,"values":[-90,-60,-30,0,30,60,90],"tickSize":11,"domainColor":"#111","tickColor":"#111","domainWidth":1.5,"tickWidth":1.5,"grid":false}},
  "y":{"field":"p","type":"quantitative","scale":{"type":"log","domain":[0.2,450],"range":[0,858],"nice":false}},"order":{"field":"i","type":"quantitative"},"detail":{"field":"seg"}}},
{"data":{"name":"labels"},"transform":[{"filter":"indexof(['L1','L2','L4','L5','L7','L8','L11','L13','L14','L15','L16','L17','L18','L19','L20','L23','L24'], datum.id) >= 0"}],
 "mark":{"type":"text","font":"Liberation Sans","fontSize":29,"color":"#111","align":"center","baseline":"middle"},
 "encoding":{"x":{"field":"lat","type":"quantitative","scale":{"domain":[-90,90],"range":[0,1356],"nice":false,"zero":false},"axis":null},"y":{"field":"p","type":"quantitative","scale":{"type":"log","domain":[0.2,450],"range":[0,858],"nice":false}},"text":{"field":"t"}}},
{"data":{"name":"labels"},"transform":[{"filter":"datum.id==='L3'"}],
 "mark":{"type":"text","font":"Liberation Sans","fontSize":29,"color":"#111","align":"center","baseline":"middle","angle":25},
 "encoding":{"x":{"field":"lat","type":"quantitative","scale":{"domain":[-90,90],"range":[0,1356],"nice":false,"zero":false},"axis":null},"y":{"field":"p","type":"quantitative","scale":{"type":"log","domain":[0.2,450],"range":[0,858],"nice":false}},"text":{"field":"t"}}},
{"data":{"name":"labels"},"transform":[{"filter":"datum.id==='L6'"}],
 "mark":{"type":"text","font":"Liberation Sans","fontSize":29,"color":"#111","align":"center","baseline":"middle","angle":20},
 "encoding":{"x":{"field":"lat","type":"quantitative","scale":{"domain":[-90,90],"range":[0,1356],"nice":false,"zero":false},"axis":null},"y":{"field":"p","type":"quantitative","scale":{"type":"log","domain":[0.2,450],"range":[0,858],"nice":false}},"text":{"field":"t"}}},
{"data":{"name":"labels"},"transform":[{"filter":"datum.id==='L9' || datum.id==='L25'"}],
 "mark":{"type":"text","font":"Liberation Sans","fontSize":29,"color":"#111","align":"center","baseline":"middle","angle":5},
 "encoding":{"x":{"field":"lat","type":"quantitative","scale":{"domain":[-90,90],"range":[0,1356],"nice":false,"zero":false},"axis":null},"y":{"field":"p","type":"quantitative","scale":{"type":"log","domain":[0.2,450],"range":[0,858],"nice":false}},"text":{"field":"t"}}},
{"data":{"name":"labels"},"transform":[{"filter":"datum.id==='L10'"}],
 "mark":{"type":"text","font":"Liberation Sans","fontSize":29,"color":"#111","align":"center","baseline":"middle","angle":-8},
 "encoding":{"x":{"field":"lat","type":"quantitative","scale":{"domain":[-90,90],"range":[0,1356],"nice":false,"zero":false},"axis":null},"y":{"field":"p","type":"quantitative","scale":{"type":"log","domain":[0.2,450],"range":[0,858],"nice":false}},"text":{"field":"t"}}},
{"data":{"name":"labels"},"transform":[{"filter":"datum.id==='L12'"}],
 "mark":{"type":"text","font":"Liberation Sans","fontSize":29,"color":"#111","align":"center","baseline":"middle","angle":-12},
 "encoding":{"x":{"field":"lat","type":"quantitative","scale":{"domain":[-90,90],"range":[0,1356],"nice":false,"zero":false},"axis":null},"y":{"field":"p","type":"quantitative","scale":{"type":"log","domain":[0.2,450],"range":[0,858],"nice":false}},"text":{"field":"t"}}},
{"data":{"name":"labels"},"transform":[{"filter":"datum.id==='L21'"}],
 "mark":{"type":"text","font":"Liberation Sans","fontSize":29,"color":"#111","align":"center","baseline":"middle","angle":-35},
 "encoding":{"x":{"field":"lat","type":"quantitative","scale":{"domain":[-90,90],"range":[0,1356],"nice":false,"zero":false},"axis":null},"y":{"field":"p","type":"quantitative","scale":{"type":"log","domain":[0.2,450],"range":[0,858],"nice":false}},"text":{"field":"t"}}},
{"data":{"name":"labels"},"transform":[{"filter":"datum.id==='L22'"}],
 "mark":{"type":"text","font":"Liberation Sans","fontSize":29,"color":"#111","align":"center","baseline":"middle","angle":-40},
 "encoding":{"x":{"field":"lat","type":"quantitative","scale":{"domain":[-90,90],"range":[0,1356],"nice":false,"zero":false},"axis":null},"y":{"field":"p","type":"quantitative","scale":{"type":"log","domain":[0.2,450],"range":[0,858],"nice":false}},"text":{"field":"t"}}},
{"data":{"name":"labels"},"transform":[{"filter":"datum.id==='L26'"}],
 "mark":{"type":"text","font":"Liberation Sans","fontSize":29,"color":"#111","align":"center","baseline":"middle","angle":38},
 "encoding":{"x":{"field":"lat","type":"quantitative","scale":{"domain":[-90,90],"range":[0,1356],"nice":false,"zero":false},"axis":null},"y":{"field":"p","type":"quantitative","scale":{"type":"log","domain":[0.2,450],"range":[0,858],"nice":false}},"text":{"field":"t"}}},
{"data":{"name":"levels"},
 "mark":{"type":"point","shape":"diamond","filled":true,"color":"#000","size":280,"opacity":1},
 "encoding":{"x":{"field":"lat","type":"quantitative","scale":{"domain":[-90,90],"range":[0,1356],"nice":false,"zero":false},"axis":null},"y":{"field":"p","type":"quantitative","scale":{"type":"log","domain":[0.2,450],"range":[0,858],"nice":false}}}}
]
}
